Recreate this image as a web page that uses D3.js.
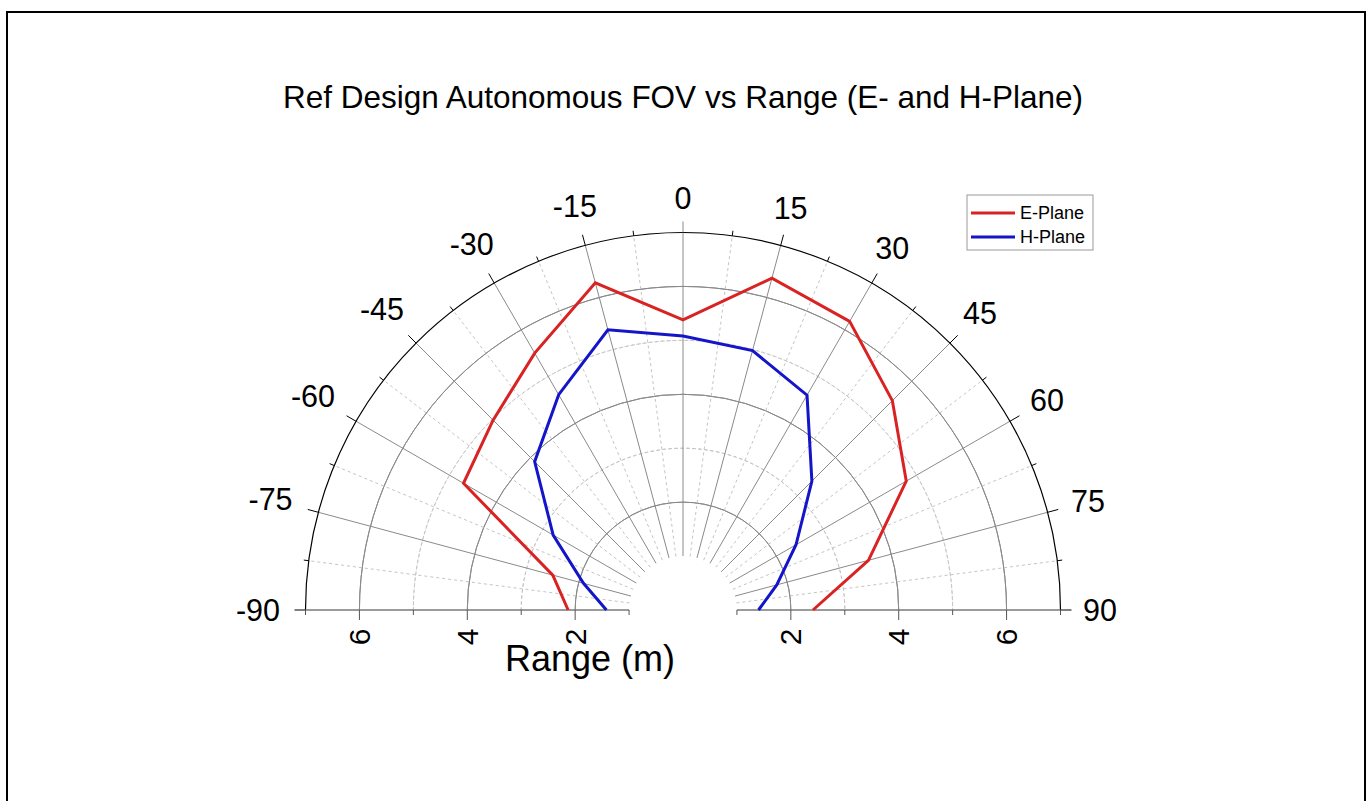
<!DOCTYPE html>
<html>
<head>
<meta charset="utf-8">
<script src="https://cdn.jsdelivr.net/npm/d3@7"></script>
<style>
  html, body { margin: 0; padding: 0; background: #fff; }
  svg { display: block; font-family: "Liberation Sans", Arial, sans-serif; }
</style>
</head>
<body>
<svg id="chart" width="1370" height="801"></svg>
<script>
// ---- data ----
const angles = [-90, -75, -60, -45, -30, -15, 0, 15, 30, 45, 60, 75, 90];
const ePlane = [2.13, 2.50, 4.70, 4.98, 5.50, 6.28, 5.38, 6.37, 6.18, 5.49, 4.78, 3.56, 2.41];
const hPlane = [1.42, 1.91, 2.78, 3.89, 4.61, 5.38, 5.08, 4.98, 4.60, 3.38, 2.42, 1.80, 1.40];
const angleTicks = [-90, -75, -60, -45, -30, -15, 0, 15, 30, 45, 60, 75, 90];
const rangeTickLabels = [2, 4, 6];
const seriesNames = ["E-Plane", "H-Plane"];
const seriesColors = ["#d92222", "#1414c8"];
const titleText = "Ref Design Autonomous FOV vs Range (E- and H-Plane)";
const axisTitle = "Range (m)";

// ---- layout ----
const svg = d3.select("#chart");
const cx = 683, cy = 610;
const rMin = 1, rMaxV = 7;
const r = d3.scaleLinear().domain([0, 7]).range([0, 377.5]);
const a = d3.scaleLinear().domain([-90, 90]).range([-Math.PI / 2, Math.PI / 2]);

// outer frame
svg.append("rect").attr("x", 7).attr("y", 12).attr("width", 1358).attr("height", 800)
  .attr("fill", "none").attr("stroke", "#000").attr("stroke-width", 2);

// title
svg.append("text").attr("x", 683).attr("y", 108).attr("text-anchor", "middle")
  .attr("font-size", 31.5).attr("fill", "#000").text(titleText);

const g = svg.append("g").attr("transform", `translate(${cx},${cy})`);
const pt = (deg, rad) => [rad * Math.sin(a(deg)), -rad * Math.cos(a(deg))];

// circular grid
const arc = d3.arc().startAngle(-Math.PI / 2).endAngle(Math.PI / 2);
[3, 5].forEach(v => {
  g.append("path").attr("d", arc({innerRadius: r(v), outerRadius: r(v)}))
    .attr("fill", "none").attr("stroke", "#c4c4c4").attr("stroke-width", 1).attr("stroke-dasharray", "3,3");
});
[2, 4, 6].forEach(v => {
  g.append("path").attr("d", arc({innerRadius: r(v), outerRadius: r(v)}))
    .attr("fill", "none").attr("stroke", "#8a8a8a").attr("stroke-width", 1);
});

// radial grid
const radials = d3.range(-82.5, 90, 7.5);
radials.forEach(d => {
  const major = Math.abs(d % 15) < 1e-6;
  const p1 = pt(d, r(rMin)), p2 = pt(d, r(rMaxV));
  g.append("line").attr("x1", p1[0]).attr("y1", p1[1]).attr("x2", p2[0]).attr("y2", p2[1])
    .attr("stroke", major ? "#8a8a8a" : "#c4c4c4").attr("stroke-width", 1)
    .attr("stroke-dasharray", major ? null : "3,3");
});

// outer arc
g.append("path").attr("d", arc({innerRadius: r(7), outerRadius: r(7)}))
  .attr("fill", "none").attr("stroke", "#000").attr("stroke-width", 1.2);

// angular ticks
d3.range(-90, 90.1, 7.5).forEach(d => {
  const major = Math.abs(d % 15) < 1e-6;
  const p1 = pt(d, r(7)), p2 = pt(d, r(7) + (major ? 11 : 5));
  g.append("line").attr("x1", p1[0]).attr("y1", p1[1]).attr("x2", p2[0]).attr("y2", p2[1])
    .attr("stroke", d === 0 ? "#8a8a8a" : "#000").attr("stroke-width", 1);
});

// radial axis lines (left and right)
[[-r(7), -r(rMin)], [r(rMin), r(7)]].forEach(([x1, x2]) => {
  g.append("line").attr("x1", x1).attr("y1", 0).attr("x2", x2).attr("y2", 0)
    .attr("stroke", "#7a7a7a").attr("stroke-width", 1.5);
});
d3.range(1, 8).forEach(v => {
  const len = v % 2 === 0 ? 10 : 5;
  [-1, 1].forEach(s => {
    g.append("line").attr("x1", s * r(v)).attr("y1", 0).attr("x2", s * r(v)).attr("y2", len)
      .attr("stroke", "#555").attr("stroke-width", 1);
  });
});

// range tick labels (rotated)
rangeTickLabels.forEach(v => {
  [-1, 1].forEach(s => {
    const x = s * r(v), y = 27;
    g.append("text").attr("transform", `translate(${x},${y}) rotate(-90)`)
      .attr("text-anchor", "middle").attr("dominant-baseline", "central")
      .attr("font-size", 30).attr("fill", "#000").text(v);
  });
});

// angle labels
angleTicks.forEach(d => {
  const lbl = String(d);
  const w = lbl.length * 16;
  const th = a(d);
  const rr = 401 + (w / 2) * Math.abs(Math.sin(th)) + 11 * Math.abs(Math.cos(th));
  const p = pt(d, rr);
  g.append("text").attr("x", p[0]).attr("y", p[1]).attr("text-anchor", "middle")
    .attr("dominant-baseline", "central").attr("font-size", 30.5).attr("fill", "#000").text(lbl);
});

// data lines
const line = d3.lineRadial().angle(d => a(d[0])).radius(d => r(d[1]));
[ePlane, hPlane].forEach((vals, i) => {
  g.append("path").datum(angles.map((ang, k) => [ang, vals[k]]))
    .attr("d", line).attr("fill", "none").attr("stroke", seriesColors[i])
    .attr("stroke-width", 3).attr("stroke-linejoin", "miter");
});

// axis title
svg.append("text").attr("x", 590).attr("y", 671).attr("text-anchor", "middle")
  .attr("font-size", 36).attr("fill", "#000").text(axisTitle);

// legend
const lg = svg.append("g").attr("transform", "translate(967,195)");
lg.append("rect").attr("width", 126).attr("height", 55).attr("fill", "#fff")
  .attr("stroke", "#999").attr("stroke-width", 1);
seriesNames.forEach((n, i) => {
  const y = 18 + i * 24;
  lg.append("line").attr("x1", 4).attr("x2", 48).attr("y1", y).attr("y2", y)
    .attr("stroke", seriesColors[i]).attr("stroke-width", 3);
  lg.append("text").attr("x", 53).attr("y", y).attr("dominant-baseline", "central")
    .attr("font-size", 18).attr("fill", "#000").text(n);
});
</script>
</body>
</html>
